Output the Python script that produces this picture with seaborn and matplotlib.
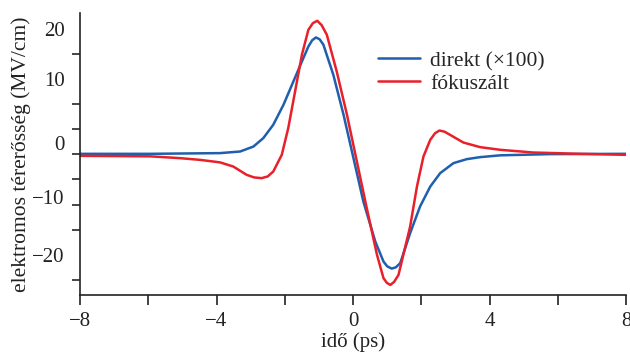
import numpy as np
import pandas as pd
import matplotlib
matplotlib.use("Agg")
import matplotlib.pyplot as plt
from matplotlib.ticker import FixedLocator
import seaborn as sns

# adatok
direkt_t = [-8.00, -5.95, -4.49, -3.90, -3.31, -2.92, -2.63, -2.34, -2.04, -1.75, -1.50, -1.31,
            -1.20, -1.09, -0.98, -0.87, -0.58, -0.28, 0.01, 0.30, 0.65, 0.89, 1.00, 1.13, 1.25,
            1.38, 1.67, 1.96, 2.26, 2.55, 2.94, 3.33, 3.72, 4.31, 5.78, 8.00]
direkt_E = [-4.90, -4.90, -4.80, -4.76, -4.44, -3.45, -1.77, 0.88, 4.86, 9.50, 13.49, 16.47,
            17.70, 18.27, 17.90, 16.81, 10.84, 2.87, -5.76, -14.40, -22.37, -26.35, -27.30, -27.75, -27.50,
            -26.67, -20.70, -15.40, -11.41, -8.75, -6.75, -5.96, -5.56, -5.20, -4.96, -4.90]

fokusz_t = [-8.00, -5.95, -5.07, -4.49, -3.90, -3.51, -3.12, -2.90, -2.68, -2.50, -2.34, -2.09,
            -1.90, -1.70, -1.50, -1.31, -1.18, -1.05, -0.92, -0.77, -0.48, -0.18, 0.11, 0.40,
            0.70, 0.89, 0.99, 1.09, 1.20, 1.33, 1.67, 1.87, 2.06, 2.26, 2.40, 2.53, 2.68, 2.84,
            3.23, 3.72, 4.31, 5.28, 6.66, 8.00]
fokusz_E = [-5.30, -5.40, -5.76, -6.10, -6.60, -7.43, -9.08, -9.60, -9.74, -9.40, -8.43, -5.10,
            0.22, 7.51, 14.82, 19.80, 21.10, 21.59, 20.70, 18.80, 11.49, 2.87, -6.43, -15.72,
            -25.02, -29.66, -30.60, -31.00, -30.40, -29.00, -19.38, -11.41, -5.44, -2.11, -0.80, -0.26, -0.50, -1.12,
            -2.65, -3.57, -4.10, -4.64, -4.90, -5.10]

sorozatok = ["direkt (×100)", "fókuszált"]
szinek = ["#1f5fad", "#e8202a"]

x_tick_ertekek = [-8, -4, 0, 4, 8]
y_cimke_helyek = [20, 10, -2.7, -13.5, -25]
y_cimkek = ["20", "10", "0", "−10", "−20"]

df = pd.concat([
    pd.DataFrame({"t": direkt_t, "E": direkt_E, "sorozat": sorozatok[0]}),
    pd.DataFrame({"t": fokusz_t, "E": fokusz_E, "sorozat": sorozatok[1]}),
])

sns.set_style("ticks")
plt.rcParams['font.family'] = ['Liberation Serif', 'DejaVu Serif']
plt.rcParams['axes.unicode_minus'] = True

fig = plt.figure(figsize=(6.3, 3.52), dpi=100)
ax = fig.add_axes([0.127, 0.162, 0.867, 0.802])

sns.lineplot(data=df, x="t", y="E", hue="sorozat", palette=szinek, estimator=None,
             sort=False, linewidth=1.8, ax=ax)
for ln in ax.lines:
    ln.set_solid_joinstyle("round")

ax.set_xlim(-8, 8)
ax.set_ylim(-33.0, 23.2)

ax.set_xticks(x_tick_ertekek)
ax.set_xticklabels([str(v).replace("-", "−") for v in x_tick_ertekek])
ax.xaxis.set_minor_locator(FixedLocator([-6, -2, 2, 6]))

ax.set_yticks(y_cimke_helyek)
ax.set_yticklabels(y_cimkek)
ax.yaxis.set_minor_locator(FixedLocator(list(range(-30, 21, 5))))

ax.tick_params(axis="x", which="both", direction="out", length=7, width=1.2, labelsize=15, pad=5, colors="#222222")
ax.tick_params(axis="y", which="major", length=0, labelsize=15, pad=11, colors="#222222")
ax.tick_params(axis="y", which="minor", direction="out", length=6, width=1.2)

for s in ["top", "right"]:
    ax.spines[s].set_visible(False)
for s in ["left", "bottom"]:
    ax.spines[s].set_linewidth(1.2)
    ax.spines[s].set_color("#222222")

ax.set_xlabel("idő (ps)", fontsize=15, labelpad=1, color="#222222")
ax.set_ylabel("elektromos térerősség (MV/cm)", fontsize=15.5, labelpad=1, color="#222222")

ax.legend(loc="upper left", bbox_to_anchor=(0.529, 0.895), frameon=False, fontsize=15.5,
          handlelength=1.95, handletextpad=0.5, labelspacing=0.13, borderaxespad=0)

plt.savefig("out.png", dpi=100)
